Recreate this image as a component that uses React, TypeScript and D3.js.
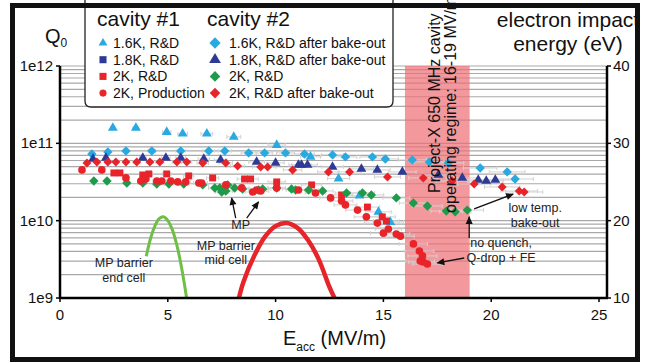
import * as d3 from "d3";

// ---- data ----
// cavity #1, 1.6K R&D (light blue triangles)
const c1T16E = [2.45, 3.52, 4.95, 5.69, 6.81, 8.06, 10.05, 11.62, 12.92, 13.89, 14.77, 15.32];
const c1T16Q = [1.58e11, 1.58e11, 1.4e11, 1.33e11, 1.33e11, 1.21e11, 9.5e10, 6.7e10, 3.5e10, 2.1e10, 1.3e10, 9.6e9];
// cavity #1, 2K R&D (red squares)
const c1S2E = [2.5, 2.78, 3.84, 4.12, 4.95, 5.97, 7.08, 8.56, 8.84, 10.05, 11.67, 13.06, 14.26, 14.95, 15.14];
const c1S2Q = [4.14e10, 4.14e10, 3.9e10, 4.02e10, 4.02e10, 3.79e10, 3.57e10, 3.46e10, 3.46e10, 3.17e10, 2.9e10, 2.15e10, 1.5e10, 1.12e10, 9.9e9];
// cavity #1, 2K production (red circles)
const c1ProdE = [1.02, 1.94, 3.06, 3.75, 3.98, 4.49, 4.72, 5.14, 5.46, 5.83, 6.44, 6.57, 7.69, 8.43, 8.94, 9.12, 9.31, 10.05, 11.06, 11.85, 12.55, 13.06, 13.24, 13.8, 14.21, 14.72, 15.0, 15.23, 15.6, 15.79, 16.39, 16.67, 16.81, 16.71, 16.85, 17.04];
const c1ProdQ = [4.53e10, 4.53e10, 3.57e10, 3.26e10, 3.46e10, 3.26e10, 3.26e10, 3.26e10, 3.17e10, 3.17e10, 3.07e10, 3.07e10, 2.9e10, 2.65e10, 2.35e10, 2.49e10, 2.42e10, 2.65e10, 2.49e10, 2.28e10, 1.97e10, 1.8e10, 1.6e10, 1.37e10, 1.12e10, 9.3e9, 6.9e9, 7.8e9, 6.7e9, 6.3e9, 5.0e9, 4.05e9, 3.5e9, 3.0e9, 2.92e9, 2.75e9];
// cavity #2, 1.6K after bake-out (light blue diamonds)
const c2D16E = [1.48, 2.22, 3.06, 4.26, 5.6, 6.9, 7.64, 8.75, 9.49, 10.46, 11.34, 12.64, 13.24, 14.49, 15.09, 16.34, 17.13, 18.01, 19.49, 20.74, 21.11];
const c2D16Q = [7.29e10, 7.74e10, 7.97e10, 7.97e10, 7.97e10, 7.97e10, 7.97e10, 7.52e10, 7.52e10, 7.52e10, 7.29e10, 7.08e10, 6.67e10, 6.67e10, 6.28e10, 6.1e10, 5.75e10, 5.58e10, 4.8e10, 4.27e10, 3.46e10];
// cavity #2, 1.8K after bake-out (dark blue triangles)
const c2T18E = [1.53, 2.13, 3.84, 4.91, 5.6, 6.67, 7.45, 9.12, 10.0, 11.06, 11.2, 11.48, 12.64, 13.98, 14.72, 15.88, 17.55, 18.66, 19.4, 19.77, 20.19];
const c2T18Q = [6.28e10, 6.47e10, 6.47e10, 6.47e10, 6.47e10, 6.28e10, 6.1e10, 5.75e10, 5.58e10, 5.26e10, 5.26e10, 5.26e10, 4.95e10, 4.67e10, 4.53e10, 4.27e10, 3.9e10, 3.57e10, 3.36e10, 3.26e10, 3.36e10];
// cavity #2, 2K R&D (green diamonds)
const c2G2E = [1.57, 2.18, 3.1, 3.84, 4.49, 5.05, 5.74, 6.62, 7.18, 7.41, 7.5, 7.69, 7.78, 8.1, 8.47, 9.21, 9.4, 10.05, 10.74, 10.93, 11.53, 12.18, 13.29, 14.03, 14.44, 15.6, 16.39, 17.04, 17.92, 18.33, 18.89];
const c2G2Q = [3.26e10, 3.26e10, 3.07e10, 3.07e10, 2.98e10, 2.98e10, 2.98e10, 2.9e10, 2.65e10, 2.65e10, 2.35e10, 2.42e10, 2.9e10, 2.65e10, 2.57e10, 2.49e10, 2.57e10, 2.65e10, 2.57e10, 2.49e10, 2.49e10, 2.42e10, 2.28e10, 2.28e10, 2.15e10, 1.97e10, 1.69e10, 1.55e10, 1.33e10, 1.3e10, 1.37e10];
// cavity #2, 2K after bake-out (red diamonds)
const c2R2E = [1.25, 1.71, 2.22, 2.59, 3.06, 3.56, 4.17, 4.63, 5.42, 5.88, 6.62, 7.69, 8.24, 9.31, 9.63, 10.79, 12.45, 13.43, 15.19, 16.85, 18.19, 19.21, 20.51, 21.3, 21.53];
const c2R2Q = [5.58e10, 5.75e10, 5.75e10, 5.75e10, 5.75e10, 5.75e10, 5.75e10, 5.75e10, 5.75e10, 5.75e10, 5.58e10, 5.58e10, 5.1e10, 4.95e10, 4.95e10, 4.53e10, 4.27e10, 4.27e10, 3.68e10, 3.57e10, 3.26e10, 2.98e10, 2.73e10, 2.42e10, 2.35e10];

// multipacting barriers, electron impact energy (eV, right axis)
const mpEndE = [4.0, 4.2, 4.4, 4.6, 4.8, 5.0, 5.2, 5.4, 5.6, 5.8, 5.87];
const mpEndEv = [15.4, 17.7, 19.3, 20.25, 20.5, 20.0, 18.9, 17.05, 14.5, 11.3, 10];
const mpMidE = [8.3, 8.5, 9.0, 9.5, 10.0, 10.5, 11.0, 11.5, 12.0, 12.5, 12.73];
const mpMidEv = [10, 12.0, 15.4, 17.9, 19.3, 19.7, 19.1, 17.5, 15.0, 11.4, 10];

const xTicks = [0, 5, 10, 15, 20, 25];
const qTicks = [1e9, 1e10, 1e11, 1e12];
const qTickLabels = ["1e9", "1e10", "1e11", "1e12"];
const evTicks = [10, 20, 30, 40];
const E_REL_ERR = 0.04;

const LIGHT = "#29a9e1";
const DARK = "#2d3b96";
const RED = "#e8242a";
const GREEN = "#1f9a4a";
const FONT = "'Liberation Sans', Arial, sans-serif";

const x = d3.scaleLinear().domain([0, 25]).range([60, 599]);
const y = d3.scaleLog().domain([1e9, 1e12]).range([298, 66]);
const yEv = d3.scaleLinear().domain([10, 40]).range([298, 66]);
const RIGHT = 607;

type Series = { e: number[]; q: number[]; shape: string; color: string; size: number };
const series: Series[] = [
  { e: c1T16E, q: c1T16Q, shape: "tri", color: LIGHT, size: 42 },
  { e: c2D16E, q: c2D16Q, shape: "dia", color: LIGHT, size: 44 },
  { e: c2T18E, q: c2T18Q, shape: "tri", color: DARK, size: 42 },
  { e: c1S2E, q: c1S2Q, shape: "sq", color: RED, size: 48 },
  { e: c2G2E, q: c2G2Q, shape: "dia", color: GREEN, size: 44 },
  { e: c1ProdE, q: c1ProdQ, shape: "circ", color: RED, size: 46 },
  { e: c2R2E, q: c2R2Q, shape: "dia", color: RED, size: 40 },
];

const symPath = (shape: string, size: number) => {
  const t =
    shape === "tri" ? d3.symbolTriangle : shape === "circ" ? d3.symbolCircle : d3.symbolSquare;
  return d3.symbol().type(t).size(size)() as string;
};

const Marker = ({ shape, color, size, cx, cy }: any) => (
  <path
    d={symPath(shape, size)}
    fill={color}
    transform={`translate(${cx},${cy})${shape === "dia" ? " rotate(45)" : ""}`}
  />
);

const Arrow = ({ e1, q1, e2, q2 }: any) => (
  <line x1={x(e1)} y1={y(q1)} x2={x(e2)} y2={y(q2)} stroke="#111" strokeWidth={1.3} markerEnd="url(#ah)" />
);

const legend1 = [
  { shape: "tri", color: LIGHT, size: 34, label: "1.6K, R&D" },
  { shape: "sq", color: DARK, size: 50, label: "1.8K, R&D" },
  { shape: "sq", color: RED, size: 50, label: "2K, R&D" },
  { shape: "circ", color: RED, size: 40, label: "2K, Production" },
];
const legend2 = [
  { shape: "dia", color: LIGHT, size: 64, label: "1.6K, R&D after bake-out" },
  { shape: "tri", color: DARK, size: 60, label: "1.8K, R&D after bake-out" },
  { shape: "dia", color: GREEN, size: 56, label: "2K, R&D" },
  { shape: "dia", color: RED, size: 56, label: "2K, R&D after bake-out" },
];

export default function App() {
  const grid = y.ticks();
  const lineEv = d3
    .line<[number, number]>()
    .x((d) => x(d[0]))
    .y((d) => yEv(d[1]))
    .curve(d3.curveCatmullRom);
  const green = lineEv(mpEndE.map((e, i) => [e, mpEndEv[i]]));
  const red = lineEv(mpMidE.map((e, i) => [e, mpMidEv[i]]));

  return (
    <svg
      width={645}
      height={363}
      style={{ position: "absolute", left: 0, top: 0, background: "#fff" }}
      fontFamily={FONT}
    >
      <defs>
        <marker id="ah" viewBox="0 0 10 10" refX={9} refY={5} markerWidth={7} markerHeight={6} orient="auto">
          <path d="M0,0.5 L10,5 L0,9.5 z" fill="#111" />
        </marker>
      </defs>

      {/* log grid */}
      {grid.map((g, i) => (
        <line key={i} x1={x(0)} x2={RIGHT} y1={y(g)} y2={y(g)} stroke="#a9a9a9" strokeWidth={1.2} />
      ))}

      {/* Project-X operating band */}
      <rect x={x(16)} y={y(1e12)} width={x(19) - x(16)} height={y(1e9) - y(1e12)} fill="#ee6e73" opacity={0.7} />

      {/* error bars */}
      {series.map((s, si) =>
        s.e.map((e, i) => {
          const x1 = x(e * (1 - E_REL_ERR));
          const x2 = x(e * (1 + E_REL_ERR));
          const yy = y(s.q[i]);
          return (
            <g key={`${si}-${i}`} stroke="#d2d2d2" strokeWidth={1}>
              <line x1={x1} x2={x2} y1={yy} y2={yy} />
              <line x1={x1} x2={x1} y1={yy - 2} y2={yy + 2} />
              <line x1={x2} x2={x2} y1={yy - 2} y2={yy + 2} />
            </g>
          );
        })
      )}

      {/* MP barrier curves */}
      <path d={green ?? ""} fill="none" stroke="#6fbe45" strokeWidth={3} />
      <path d={red ?? ""} fill="none" stroke="#e6242a" strokeWidth={4.5} />

      {/* data points */}
      {series.map((s, si) =>
        s.e.map((e, i) => (
          <Marker key={`m${si}-${i}`} shape={s.shape} color={s.color} size={s.size} cx={x(e)} cy={y(s.q[i])} />
        ))
      )}

      {/* annotations */}
      <g fontSize={12.5} fill="#222" textAnchor="middle">
        <text x={x(8.38)} y={y(7.8e9)}>MP</text>
        <text x={x(7.69)} y={y(4.18e9)}>MP barrier</text>
        <text x={x(7.69)} y={y(2.75e9)}>mid cell</text>
        <text x={x(2.96)} y={y(2.52e9)}>MP barrier</text>
        <text x={x(2.96)} y={y(1.61e9)}>end cell</text>
        <text x={x(22.04)} y={y(1.28e10)}>low temp.</text>
        <text x={x(22.04)} y={y(8.3e9)}>bake-out</text>
        <text x={x(20.46)} y={y(4.6e9)}>no quench,</text>
        <text x={x(20.46)} y={y(2.9e9)}>Q-drop + FE</text>
      </g>
      <Arrow e1={8.15} q1={1.08e10} e2={7.96} q2={1.97e10} />
      <Arrow e1={8.66} q1={1.08e10} e2={9.21} q2={1.75e10} />
      <Arrow e1={19.21} q1={1.42e10} e2={21.02} q2={2.21e10} />
      <Arrow e1={18.98} q1={5.97e9} e2={18.98} q2={1.12e10} />
      <Arrow e1={18.75} q1={3.29e9} e2={17.5} q2={2.84e9} />

      {/* axes */}
      <g stroke="#000" strokeWidth={2.5}>
        <line x1={x(0)} x2={x(0)} y1={y(1e12)} y2={y(1e9) + 1} />
        <line x1={x(0) - 1} x2={RIGHT + 1} y1={y(1e9)} y2={y(1e9)} />
        <line x1={RIGHT} x2={RIGHT} y1={yEv(40)} y2={yEv(10)} />
      </g>
      <g stroke="#000" strokeWidth={1.5}>
        {qTicks.map((q) => (
          <line key={q} x1={x(0) - 4} x2={x(0)} y1={y(q)} y2={y(q)} />
        ))}
        {xTicks.map((t) => (
          <line key={t} x1={x(t)} x2={x(t)} y1={y(1e9)} y2={y(1e9) + 4} />
        ))}
        {evTicks.map((t) => (
          <line key={t} x1={RIGHT} x2={RIGHT + 4} y1={yEv(t)} y2={yEv(t)} />
        ))}
      </g>
      <g fontSize={15} fill="#111">
        {qTicks.map((q, i) => (
          <text key={q} x={x(0) - 7} y={y(q) + 5} textAnchor="end">{qTickLabels[i]}</text>
        ))}
        {xTicks.map((t) => (
          <text key={t} x={x(t)} y={320} textAnchor="middle">{t}</text>
        ))}
        {evTicks.map((t) => (
          <text key={t} x={RIGHT + 6} y={yEv(t) + 5}>{t}</text>
        ))}
      </g>

      {/* axis titles */}
      <text x={45} y={43} fontSize={20} fill="#111">
        Q<tspan fontSize={12} dy={4}>0</tspan>
      </text>
      <text x={283} y={345} fontSize={20} fill="#111">
        E<tspan fontSize={12} dy={6}>acc</tspan>
        <tspan dy={-6}> (MV/m)</tspan>
      </text>
      <g fontSize={21} fill="#111" textAnchor="middle">
        <text x={568} y={27}>electron impact</text>
        <text x={568} y={51}>energy (eV)</text>
      </g>

      {/* legend */}
      <path d="M85,0 V101 Q85,107 91,107 H387 Q393,107 393,101 V0" fill="#fff" stroke="#222" strokeWidth={1.3} />
      <g fill="#111">
        <text x={97} y={26} fontSize={21}>cavity #1</text>
        <text x={207} y={26} fontSize={21}>cavity #2</text>
        {legend1.map((l, i) => (
          <g key={l.label}>
            <Marker shape={l.shape} color={l.color} size={l.size} cx={103} cy={43 + i * 16.7} />
            <text x={113} y={48 + i * 16.7} fontSize={14}>{l.label}</text>
          </g>
        ))}
        {legend2.map((l, i) => (
          <g key={l.label}>
            <Marker shape={l.shape} color={l.color} size={l.size} cx={215} cy={43 + i * 16.7} />
            <text x={229} y={48 + i * 16.7} fontSize={14}>{l.label}</text>
          </g>
        ))}
      </g>

      {/* band label */}
      <g fontSize={16} fill="#111">
        <text transform={`translate(${x(17.64)},${y(2.28e10)}) rotate(-90)`}>Project-X 650 MHz cavity</text>
        <text transform={`translate(${x(18.38)},${y(1.26e10)}) rotate(-90)`}>operating regime: 16-19 MV/m</text>
      </g>

      {/* outer frame */}
      <rect x={12.5} y={5.5} width={625} height={354} fill="none" stroke="#111" strokeWidth={5} />
    </svg>
  );
}
